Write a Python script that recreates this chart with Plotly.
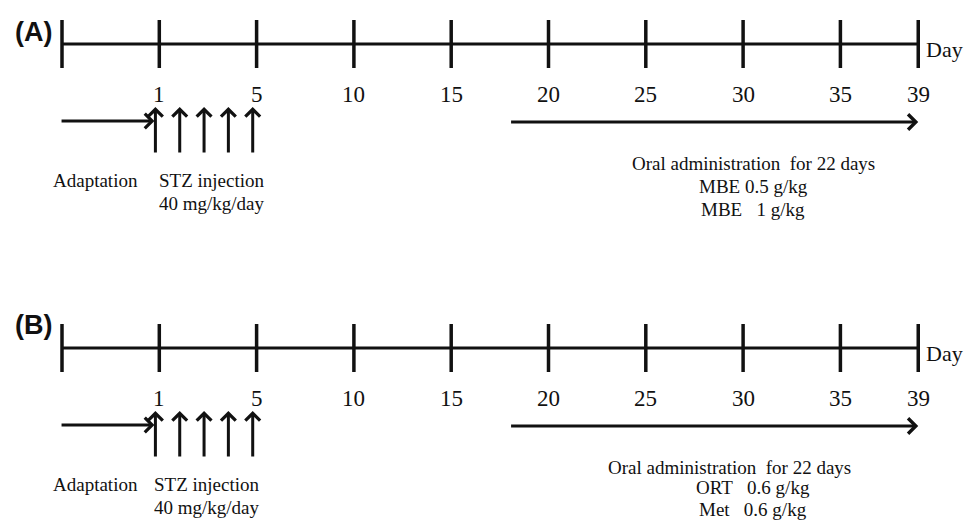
import numpy as np
import plotly.graph_objects as go

# ---------------- data ----------------
tick_days = [1, 5, 10, 15, 20, 25, 30, 35, 39]
stz_days = [1, 2, 3, 4, 5]
oral_start_day = 18
oral_end_day = 39
panel_labels = ["(A)", "(B)"]
oral_title = "Oral administration\u00a0\u00a0for 22 days"
treatments = [
    ["MBE 0.5 g/kg", "MBE\u00a0\u00a0\u00a01 g/kg"],
    ["ORT\u00a0\u00a0\u00a00.6 g/kg", "Met\u00a0\u00a0\u00a00.6 g/kg"],
]
adapt_text = "Adaptation"
stz_text = ["STZ injection", "40 mg/kg/day"]

# ---------------- schematic scale ----------------
# regular ticks are equally spaced; the last one (day 39) is proportionally shorter
tick_pos = [float(i + 1) for i in range(len(tick_days) - 1)]
tick_pos.append(tick_pos[-1] + (tick_days[-1] - tick_days[-2]) / 5.0)
start_pos = 0.0


def day_pos(d):
    return float(np.interp(d, tick_days, tick_pos))


W, H = 971, 520
U = 97.3          # pixels per schematic unit
X0 = -62.0 / U
X1 = X0 + W / U


def px(p):
    return p / U + X0


BLACK = "#111111"
SERIF = "Liberation Serif, Times New Roman, serif"
SANS = "Liberation Sans, Arial, sans-serif"

fig = go.Figure()
ann = []

panel_line_y = [44, 348]
panel_label_y = [32, 325]
oral_title_x = [753, 729]
stz_text_x = [212, 207]
treat_dy = [(142, 23.5), (139, 22.5)]

for k, base in enumerate(panel_line_y):
    x_end = tick_pos[-1]
    # main line
    fig.add_trace(go.Scatter(x=[start_pos, x_end], y=[base, base], mode="lines",
                             line=dict(color=BLACK, width=3), hoverinfo="skip"))
    # ticks
    tx, ty = [], []
    for p in [start_pos] + tick_pos:
        tx += [p, p, None]
        ty += [base - 24, base + 24, None]
    fig.add_trace(go.Scatter(x=tx, y=ty, mode="lines",
                             line=dict(color=BLACK, width=3.5), hoverinfo="skip"))
    # tick labels
    for d, p in zip(tick_days, tick_pos):
        ann.append(dict(x=p, y=base + 50, xref="x", yref="y", text=str(d),
                        showarrow=False, xanchor="center", yanchor="middle",
                        font=dict(family=SERIF, size=23, color=BLACK)))
    ann.append(dict(x=x_end, y=base + 5, xref="x", yref="y", text="Day",
                    showarrow=False, xanchor="left", yanchor="middle", xshift=6,
                    font=dict(family=SERIF, size=22, color=BLACK)))
    # panel label
    ann.append(dict(x=px(33), y=panel_label_y[k], xref="x", yref="y",
                    text="<b>" + panel_labels[k] + "</b>", showarrow=False,
                    xanchor="center", yanchor="middle",
                    font=dict(family=SANS, size=27, color=BLACK)))
    # adaptation arrow
    ay = base + 77
    ann.append(dict(x=day_pos(stz_days[0]) - 0.05, y=ay, ax=start_pos - 0.02, ay=ay,
                    xref="x", yref="y", axref="x", ayref="y", text="",
                    showarrow=True, arrowhead=4, arrowsize=0.95, arrowwidth=3,
                    arrowcolor=BLACK, standoff=0, startstandoff=0))
    # STZ injection arrows
    for d in stz_days:
        p = day_pos(d) - 0.04
        ann.append(dict(x=p, y=base + 63, ax=p, ay=base + 110,
                        xref="x", yref="y", axref="x", ayref="y", text="",
                        showarrow=True, arrowhead=4, arrowsize=0.95, arrowwidth=3,
                        arrowcolor=BLACK, standoff=0, startstandoff=0))
    # oral administration arrow
    oy = base + 78
    ann.append(dict(x=day_pos(oral_end_day), y=oy, ax=day_pos(oral_start_day), ay=oy,
                    xref="x", yref="y", axref="x", ayref="y", text="",
                    showarrow=True, arrowhead=4, arrowsize=1.0, arrowwidth=3,
                    arrowcolor=BLACK, standoff=0, startstandoff=0))
    # texts
    tfont = dict(family=SERIF, size=19, color=BLACK)
    ann.append(dict(x=px(95), y=base + 136, xref="x", yref="y", text=adapt_text,
                    showarrow=False, xanchor="center", yanchor="middle", font=tfont))
    ann.append(dict(x=px(stz_text_x[k]), y=base + 136, xref="x", yref="y", text=stz_text[0],
                    showarrow=False, xanchor="center", yanchor="middle", font=tfont))
    ann.append(dict(x=px(stz_text_x[k]), y=base + 159, xref="x", yref="y", text=stz_text[1],
                    showarrow=False, xanchor="center", yanchor="middle", font=tfont))
    ann.append(dict(x=px(oral_title_x[k]), y=base + 119, xref="x", yref="y", text=oral_title,
                    showarrow=False, xanchor="center", yanchor="middle", font=tfont))
    d0, dd = treat_dy[k]
    for j, t in enumerate(treatments[k]):
        ann.append(dict(x=px(753), y=base + d0 + dd * j, xref="x", yref="y", text=t,
                        showarrow=False, xanchor="center", yanchor="middle", font=tfont))

fig.update_layout(
    width=W, height=H, autosize=False,
    margin=dict(l=0, r=0, t=0, b=0),
    paper_bgcolor="white", plot_bgcolor="white",
    showlegend=False,
    xaxis=dict(range=[X0, X1], visible=False, fixedrange=True),
    yaxis=dict(range=[H, 0], visible=False, fixedrange=True),
    annotations=ann,
)

fig.write_html(
    "out.html",
    config={"displayModeBar": False},
    post_script="document.body.style.margin='0';document.body.style.overflow='hidden';",
)
